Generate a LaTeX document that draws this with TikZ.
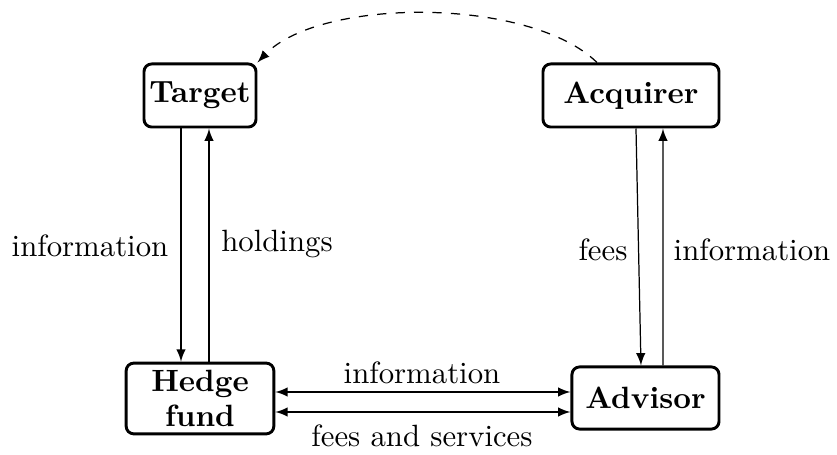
\documentclass[tikz,border=0pt]{standalone}
\usetikzlibrary{calc}
\begin{document}
\begin{tikzpicture}[x=0.325pt,y=-0.325pt,
  party/.style={draw,line width=0.95pt,rounded corners=2.5pt,align=center,
    font=\bfseries,inner sep=1pt},
  flow/.style={-latex,line width=0.4pt},
  lbl/.style={inner sep=0pt}]
\useasboundingbox (0,0) rectangle (837,455);
% parties
\node[party,minimum width=36.4pt,minimum height=20.5pt] (tgt) at (200,95.5) {Target};
\node[party,minimum width=57.2pt,minimum height=20.5pt] (acq) at (631,95.5) {Acquirer};
\node[party,minimum width=48pt,minimum height=23pt] (hf) at (200,398.5) {Hedge\\[-0.5pt]fund};
\node[party,minimum width=47.8pt,minimum height=20.2pt] (adv) at (645.5,398) {Advisor};
% target <-> hedge fund
\draw[flow] ($(tgt.south)+(-19,0)$) -- ($(hf.north)+(-19,0)$);
\draw[flow] ($(hf.north)+(9,0)$) -- ($(tgt.south)+(9,0)$);
\node[lbl] (l1) at (90,246) {information};
\node[lbl] (l2) at (277,244) {holdings};
% acquirer <-> advisor
\draw[flow] ($(acq.south)+(5,0)$) -- ($(adv.north)+(-4.5,0)$);
\draw[flow] ($(adv.north)+(17.5,0)$) -- ($(acq.south)+(32,0)$);
\node[lbl] (l3) at (603,250) {fees};
\node[lbl] (l4) at (752,250) {information};
% hedge fund <-> advisor
\draw[latex-latex,line width=0.4pt] (hf.east |- 0,392) -- (adv.west |- 0,392);
\draw[latex-latex,line width=0.4pt] (hf.east |- 0,412) -- (adv.west |- 0,412);
\node[lbl] (l5) at (422,373) {information};
\node[lbl] (l6) at (422,436) {fees and services};
% approach from acquirer to target
\coordinate (dstart) at ($(acq.north)+(-34,0)$);
\draw[-latex,dashed,line width=0.4pt] (dstart) .. controls (530,-3) and (320,-3) .. (tgt.north east);
\end{tikzpicture}
\end{document}
